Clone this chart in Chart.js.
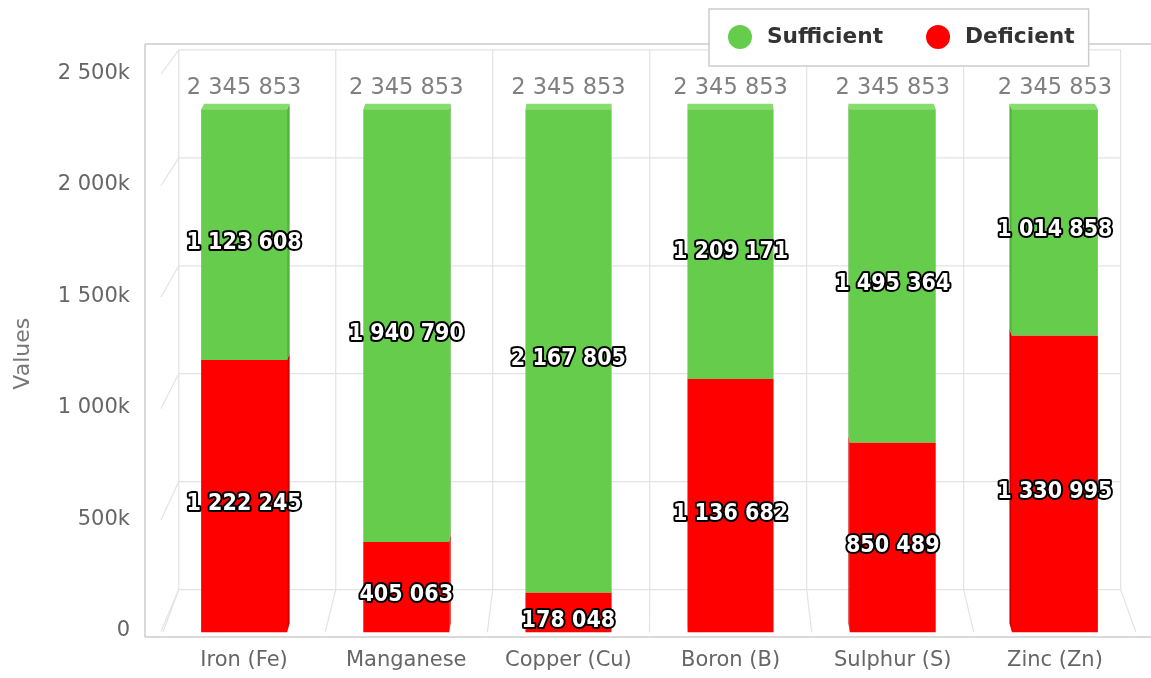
<!DOCTYPE html>
<html>
<head>
<meta charset="utf-8">
<title>Micronutrient status</title>
<script src="https://cdn.jsdelivr.net/npm/chart.js@4.4.1/dist/chart.umd.min.js"></script>
<style>
  html, body { margin: 0; padding: 0; background: #fff; }
  #wrap { width: 1151px; height: 678px; }
</style>
</head>
<body>
<div id="wrap"><canvas id="myChart" width="1151" height="678"></canvas></div>
<script>
// --- data
const nutrients = ['Iron (Fe)', 'Manganese', 'Copper (Cu)', 'Boron (B)', 'Sulphur (S)', 'Zinc (Zn)'];
const sufficient = [1123608, 1940790, 2167805, 1209171, 1495364, 1014858];
const deficient = [1222245, 405063, 178048, 1136682, 850489, 1330995];
const yTicks = [0, 500000, 1000000, 1500000, 2000000, 2500000];

const FONT = 'DejaVu Sans';
const GREEN = '#66cc4c';
const RED = '#ff0000';

// perspective used for the fake 3d walls (vanishing point + depth scale)
const VX = 655, VY = -677, WALL_S = 0.968, BAR_S = 0.993;

function fmt(n) {
    return String(n).replace(/\B(?=(\d{3})+(?!\d))/g, ' ');
}
function proj(x, y, s) {
    return [VX + s * (x - VX), VY + s * (y - VY)];
}
function line(ctx, a, b) {
    ctx.beginPath();
    ctx.moveTo(a[0], a[1]);
    ctx.lineTo(b[0], b[1]);
    ctx.stroke();
}
function poly(ctx, pts, color) {
    ctx.beginPath();
    ctx.moveTo(pts[0][0], pts[0][1]);
    for (let i = 1; i < pts.length; i++) ctx.lineTo(pts[i][0], pts[i][1]);
    ctx.closePath();
    ctx.fillStyle = color;
    ctx.fill();
}

// walls, frame and bar sides / tops
const wallPlugin = {
    id: 'wall',
    beforeDatasetsDraw(chart) {
        const ctx = chart.ctx;
        const area = chart.chartArea;
        const y = chart.scales.y;
        ctx.save();

        // outer plot border
        ctx.strokeStyle = '#cccccc';
        ctx.lineWidth = 1.5;
        line(ctx, [145, 44], [1151, 44]);
        line(ctx, [145, 44], [145, 637]);
        line(ctx, [145, 637], [1151, 637]);

        // back wall grid
        ctx.strokeStyle = '#e3e3e3';
        ctx.lineWidth = 1.2;
        yTicks.forEach(function (v) {
            const fy = y.getPixelForValue(v) - 1;
            const bl = proj(area.left, fy, WALL_S);
            const br = proj(area.right, fy, WALL_S);
            line(ctx, bl, br);
            line(ctx, [area.left - 2, fy], bl);
        });
        const step = (area.right - area.left) / nutrients.length;
        for (let k = 0; k <= nutrients.length; k++) {
            const fx = area.left + k * step;
            const bt = proj(fx, y.getPixelForValue(yTicks[yTicks.length - 1]) - 1, WALL_S);
            const bb = proj(fx, area.bottom - 1, WALL_S);
            line(ctx, bt, bb);
            line(ctx, bb, [fx, area.bottom]);
        }

        // side and top faces of the columns
        const sideCol = { Sufficient: '#52b23a', Deficient: '#cc0000' };
        const topCol = '#86dc6c';
        chart.data.datasets.forEach(function (ds, di) {
            const meta = chart.getDatasetMeta(di);
            meta.data.forEach(function (bar) {
                const p = bar.getProps(['x', 'y', 'base', 'width'], true);
                const x1 = p.x - p.width / 2, x2 = p.x + p.width / 2;
                const sx = p.x < VX ? x2 : x1;
                poly(ctx, [[sx, p.y], [sx, p.base], proj(sx, p.base, BAR_S), proj(sx, p.y, BAR_S)], sideCol[ds.label]);
                if (di === chart.data.datasets.length - 1) {
                    poly(ctx, [[x1, p.y], [x2, p.y], proj(x2, p.y, BAR_S), proj(x1, p.y, BAR_S)], topCol);
                }
            });
        });
        ctx.restore();
    },
    afterDatasetsDraw(chart) {
        const ctx = chart.ctx;
        ctx.save();
        ctx.textAlign = 'center';
        ctx.textBaseline = 'middle';

        // values inside the segments
        ctx.font = 'bold 23px "DejaVu Sans Condensed", "' + FONT + '"';
        ctx.lineJoin = 'round';
        ctx.lineWidth = 4;
        ctx.strokeStyle = '#000';
        ctx.fillStyle = '#fff';
        chart.data.datasets.forEach(function (ds, di) {
            chart.getDatasetMeta(di).data.forEach(function (bar, i) {
                const p = bar.getProps(['x', 'y', 'base'], true);
                const txt = fmt(ds.data[i]);
                const cy = (p.y + p.base) / 2 + 8;
                ctx.strokeText(txt, p.x, cy);
                ctx.fillText(txt, p.x, cy);
            });
        });

        // stack totals
        ctx.font = '22.5px "' + FONT + '"';
        ctx.fillStyle = '#808080';
        const top = chart.getDatasetMeta(chart.data.datasets.length - 1).data;
        top.forEach(function (bar, i) {
            const p = bar.getProps(['x', 'y'], true);
            ctx.fillText(fmt(sufficient[i] + deficient[i]), p.x, p.y - 21);
        });
        ctx.restore();
    },
    afterDraw(chart) {
        // legend in a framed box, top right
        const ctx = chart.ctx;
        const items = chart.data.datasets.slice().reverse();
        ctx.save();
        ctx.font = 'bold 21.7px "' + FONT + '"';
        ctx.textBaseline = 'middle';
        const cy = 37;
        const widths = items.map(function (ds) { return ctx.measureText(ds.label).width; });
        let right = 740;
        widths.forEach(function (w, i) { right += 27 + w + (i < widths.length - 1 ? 55 : 14); });
        ctx.fillStyle = '#fff';
        ctx.fillRect(709, 9, right - 709, 57);
        ctx.strokeStyle = '#cccccc';
        ctx.lineWidth = 1.5;
        ctx.strokeRect(709, 9, right - 709, 57);
        let cx = 740;
        items.forEach(function (ds, i) {
            ctx.beginPath();
            ctx.arc(cx, cy, 12, 0, Math.PI * 2);
            ctx.fillStyle = ds.backgroundColor;
            ctx.fill();
            ctx.fillStyle = '#333333';
            ctx.fillText(ds.label, cx + 27, cy);
            cx += 27 + widths[i] + 55;
        });
        ctx.restore();
    }
};

const ctx = document.getElementById('myChart');

new Chart(ctx, {
    type: 'bar',
    data: {
        labels: nutrients,
        datasets: [{
            label: 'Deficient',
            data: deficient,
            backgroundColor: RED,
            borderWidth: 0
        }, {
            label: 'Sufficient',
            data: sufficient,
            backgroundColor: GREEN,
            borderWidth: 0
        }]
    },
    options: {
        responsive: false,
        animation: false,
        layout: { padding: { top: 75, right: 15, left: 0, bottom: 0 } },
        datasets: { bar: { categoryPercentage: 1, barPercentage: 0.53 } },
        plugins: {
            legend: { display: false },
            tooltip: { enabled: false }
        },
        scales: {
            x: {
                stacked: true,
                grid: { display: false, drawTicks: false },
                border: { display: false },
                ticks: {
                    padding: 16,
                    color: '#666666',
                    font: { family: FONT, size: 21 }
                },
                afterFit: function (scale) { scale.height = 41; }
            },
            y: {
                stacked: true,
                min: 0,
                max: 2500000,
                grid: { display: false, drawTicks: false },
                border: { display: false },
                afterBuildTicks: function (scale) {
                    scale.ticks = yTicks.map(function (v) { return { value: v }; });
                },
                ticks: {
                    padding: 33,
                    labelOffset: -1.5,
                    color: '#666666',
                    font: { family: FONT, size: 21 },
                    callback: function (v) { return v === 0 ? '0' : fmt(v / 1000) + 'k'; }
                },
                title: {
                    display: true,
                    text: 'Values',
                    color: '#777777',
                    padding: { top: 10, bottom: 0 },
                    font: { family: FONT, size: 22 }
                },
                afterFit: function (scale) { scale.width = 163; }
            }
        }
    },
    plugins: [wallPlugin]
});
</script>
</body>
</html>
